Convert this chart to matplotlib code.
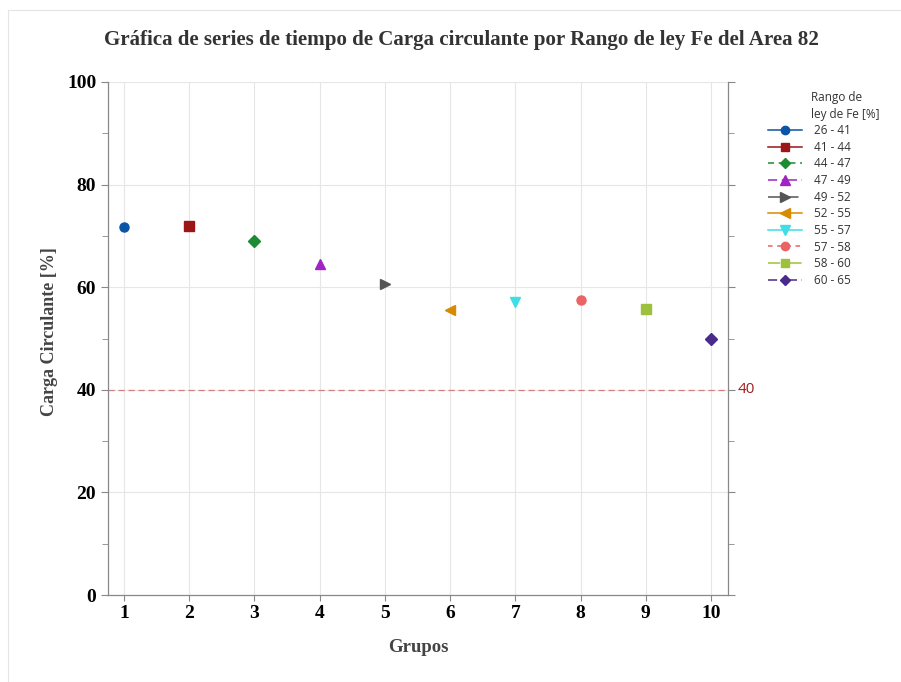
import matplotlib.pyplot as plt
import matplotlib.patches as mpatches
from matplotlib.ticker import MultipleLocator

# data
grupos = [1, 2, 3, 4, 5, 6, 7, 8, 9, 10]
carga = [71.7, 71.9, 69.0, 64.5, 60.6, 55.6, 57.1, 57.5, 55.7, 49.9]
rangos = ["26 - 41", "41 - 44", "44 - 47", "47 - 49", "49 - 52",
          "52 - 55", "55 - 57", "57 - 58", "58 - 60", "60 - 65"]
colores = ["#0a55a8", "#9b1616", "#1b8c32", "#a024c4", "#555555",
           "#d88a00", "#3fdde6", "#ea6464", "#9cc13c", "#4a2a8c"]
marcadores = ["o", "s", "D", "^", ">", "<", "v", "o", "s", "D"]
estilos = ["-", "-", (0, (4, 3)), (0, (6, 3, 1, 3)), (0, (8, 4)),
           "-", "-", (0, (3, 3)), (0, (8, 6)), (0, (6, 3, 1, 3))]
ref_linea = 40

fig = plt.figure(figsize=(9.01, 6.82), dpi=100)
fig.patches.append(mpatches.Rectangle((8 / 901, 0), 1, 1 - 10 / 682, transform=fig.transFigure,
                                      fill=False, edgecolor="#e4e4e4", linewidth=0.8))
ax = fig.add_axes([108 / 901, 1 - 595 / 682, 620 / 901, 513 / 682])

for g, c, r, col, m, ls in zip(grupos, carga, rangos, colores, marcadores, estilos):
    ms = 6.5 if m in ("o", "s") else 7
    if m == "D":
        ms = 6
    ax.plot([g], [c], marker=m, color=col, markersize=ms, linestyle="none")
    ax.plot([], [], marker=m, color=col, markersize=ms - 0.5, linestyle=ls, linewidth=1.1, label=r)

ax.axhline(ref_linea, color="#d08080", linestyle=(0, (5, 3)), linewidth=0.9)
ax.text(10.41, ref_linea, str(ref_linea), color="#a01e1e", fontsize=11,
        family="Open Sans", va="center", ha="left")

ax.set_xlim(0.755, 10.26)
ax.set_ylim(0, 100)
ax.set_xticks(grupos)
ax.yaxis.set_major_locator(MultipleLocator(20))
ax.yaxis.set_minor_locator(MultipleLocator(10))
ax.grid(True, which="major", color="#e6e6e6", linewidth=0.8)
ax.set_axisbelow(True)
ax.tick_params(axis="y", which="both", right=True, direction="out", color="#888888")
ax.tick_params(axis="y", which="major", length=5)
ax.tick_params(axis="y", which="minor", length=4)
ax.tick_params(axis="x", length=4, color="#888888")
for lab in ax.get_xticklabels() + ax.get_yticklabels():
    lab.set_fontfamily("Liberation Serif")
    lab.set_fontweight("bold")
    lab.set_fontsize(14)
ax.spines["top"].set_visible(False)
for s in ("left", "right", "bottom"):
    ax.spines[s].set_color("#888888")
    ax.spines[s].set_linewidth(0.9)

ax.set_xlabel("Grupos", family="Liberation Serif", fontweight="bold", fontsize=13.5,
              color="#444444", labelpad=12)
ax.set_ylabel("Carga Circulante [%]", family="Liberation Serif", fontweight="bold",
              fontsize=13, color="#444444")
ax.yaxis.set_label_coords(-0.081, 0.513)
fig.text(461 / 901, 1 - 40 / 682, "Gráfica de series de tiempo de Carga circulante por Rango de ley Fe del Area 82",
         family="Liberation Serif", fontweight="bold", fontsize=15.1, color="#333333",
         ha="center", va="center")

fig.text(811 / 901, 1 - 106 / 682, "Rango de\nley de Fe [%]", family="Open Sans", fontsize=8.5,
         color="#333333", ha="left", va="center", linespacing=1.45)
leg = fig.legend(loc="upper left", bbox_to_anchor=(768 / 901, 1 - 124 / 682),
                 frameon=False, prop={"family": "Open Sans", "size": 8.5}, handlelength=2.9,
                 labelspacing=0.31, borderaxespad=0, borderpad=0, handletextpad=1.0)
for t in leg.get_texts():
    t.set_color("#333333")

fig.savefig("out.png", dpi=100)
